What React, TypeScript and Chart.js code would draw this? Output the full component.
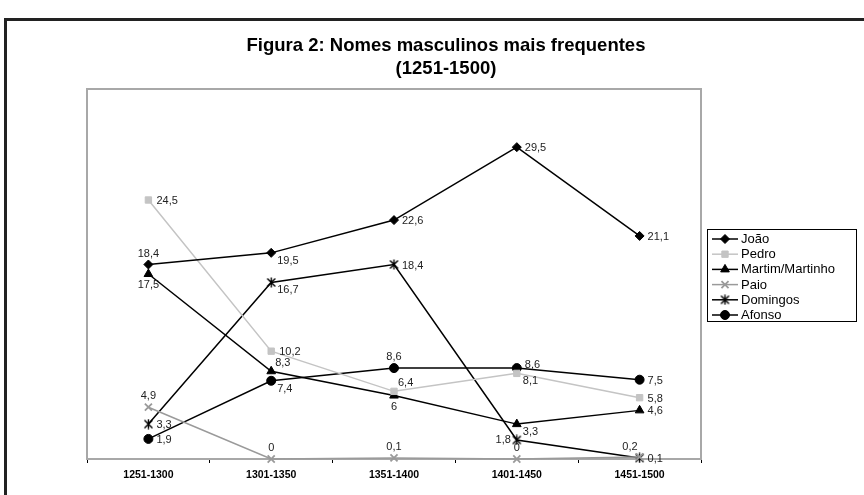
import React, { useEffect, useRef } from 'react';
import { Chart, registerables } from 'chart.js';
import { drawPoint } from 'chart.js/helpers';
Chart.register(...registerables);

const FONT = "'Liberation Sans', Arial, sans-serif";

const categories = ['1251-1300', '1301-1350', '1351-1400', '1401-1450', '1451-1500'];
const joao = [18.4, 19.5, 22.6, 29.5, 21.1];
const pedro = [24.5, 10.2, 6.4, 8.1, 5.8];
const martim = [17.5, 8.3, 6, 3.3, 4.6];
const paio = [4.9, 0, 0.1, 0, 0.2];
const domingos = [3.3, 16.7, 18.4, 1.8, 0.1];
const afonso = [1.9, 7.4, 8.6, 8.6, 7.5];
const seriesNames = ['João', 'Pedro', 'Martim/Martinho', 'Paio', 'Domingos', 'Afonso'];
const titleLines = ['Figura 2: Nomes masculinos mais frequentes', '(1251-1500)'];
const yMin = 0;
const yMax = 35;

// label placement per series / point (style only)
const placements: string[][] = [
  ['A', 'BR', 'R', 'R', 'R'],
  ['R', 'R', 'AR', 'BR', 'R'],
  ['B', 'AR', 'B', 'BR', 'R'],
  ['A', 'A', 'A', 'A', 'AL'],
  ['R', 'BR', 'R', 'L', 'R'],
  ['R', 'BR', 'A', 'RU', 'R'],
];

function makeAsterisk(): HTMLCanvasElement {
  const c = document.createElement('canvas');
  c.width = 11;
  c.height = 11;
  const g = c.getContext('2d') as CanvasRenderingContext2D;
  g.strokeStyle = '#000';
  g.lineWidth = 1.4;
  g.beginPath();
  g.moveTo(1.5, 1.5); g.lineTo(9.5, 9.5);
  g.moveTo(9.5, 1.5); g.lineTo(1.5, 9.5);
  g.moveTo(5.5, 0.5); g.lineTo(5.5, 10.5);
  g.stroke();
  return c;
}

const styles: any[] = [
  { color: '#000', fill: '#000', point: 'rectRot', r: 4.5, pbw: 1 },
  { color: '#c4c4c4', fill: '#c4c4c4', point: 'rect', r: 4.5, pbw: 1 },
  { color: '#000', fill: '#000', point: 'triangle', r: 5, pbw: 1 },
  { color: '#9a9a9a', fill: '#9a9a9a', point: 'crossRot', r: 5, pbw: 1.8 },
  { color: '#000', fill: '#000', point: 'asterisk', r: 5, pbw: 1.3 },
  { color: '#000', fill: '#000', point: 'circle', r: 4.5, pbw: 1 },
];

const fmt = (v: number) => String(v).replace('.', ',');

const decorPlugin = {
  id: 'decor',
  beforeDatasetsDraw(chart: any) {
    const { ctx, chartArea } = chart;
    ctx.save();
    ctx.strokeStyle = '#222';
    ctx.lineWidth = 3;
    ctx.strokeRect(5.5, 19.5, 2000, 2000);
    ctx.strokeStyle = '#a8a8a8';
    ctx.lineWidth = 2;
    ctx.strokeRect(chartArea.left, chartArea.top, chartArea.right - chartArea.left, chartArea.bottom - chartArea.top);
    ctx.fillStyle = '#000';
    ctx.font = `bold 18.5px ${FONT}`;
    ctx.textAlign = 'center';
    ctx.textBaseline = 'middle';
    titleLines.forEach((t, i) => ctx.fillText(t, 446, 46 + i * 22.5));
    ctx.restore();
  },
  afterDatasetsDraw(chart: any) {
    const { ctx } = chart;
    ctx.save();
    ctx.font = `11px ${FONT}`;
    ctx.fillStyle = '#222';
    ctx.textBaseline = 'middle';
    chart.data.datasets.forEach((ds: any, di: number) => {
      const meta = chart.getDatasetMeta(di);
      meta.data.forEach((pt: any, i: number) => {
        const v = ds.data[i];
        const p = placements[di][i];
        let x = pt.x, y = pt.y, align: CanvasTextAlign = 'left';
        if (p === 'R') { x += 8; y += 1; }
        else if (p === 'RU') { x += 8; y -= 3; }
        else if (p === 'A') { y -= 11; align = 'center'; }
        else if (p === 'B') { y += 11; align = 'center'; }
        else if (p === 'L') { x -= 6; align = 'right'; }
        else if (p === 'BR') { x += 6; y += 8; }
        else if (p === 'AR') { x += 4; y -= 8; }
        else if (p === 'AL') { x -= 2; y -= 10; align = 'right'; }
        ctx.textAlign = align;
        ctx.fillText(fmt(v), x, y);
      });
    });
    ctx.restore();
  },
  afterDraw(chart: any) {
    const { ctx } = chart;
    ctx.save();
    const bx = 707, by = 229, bw = 149, bh = 92;
    ctx.fillStyle = '#fff';
    ctx.fillRect(bx, by, bw, bh);
    ctx.strokeStyle = '#000';
    ctx.lineWidth = 1;
    ctx.strokeRect(bx + 0.5, by + 0.5, bw, bh);
    ctx.font = `13px ${FONT}`;
    ctx.textBaseline = 'middle';
    ctx.textAlign = 'left';
    const dsets = chart.data.datasets;
    seriesNames.forEach((name, i) => {
      const s = styles[i];
      const y = by + 10 + i * 15.2;
      ctx.strokeStyle = s.color;
      ctx.lineWidth = 1.5;
      ctx.beginPath();
      ctx.moveTo(712, y);
      ctx.lineTo(738, y);
      ctx.stroke();
      ctx.fillStyle = s.fill;
      ctx.strokeStyle = s.color;
      ctx.lineWidth = s.pbw;
      drawPoint(ctx, { pointStyle: dsets[i].pointStyle, radius: s.r, rotation: 0, borderWidth: s.pbw }, 725, y);
      ctx.fillStyle = '#000';
      ctx.fillText(name, 741, y + 0.5);
    });
    ctx.restore();
  },
};

export default function App() {
  const ref = useRef<HTMLCanvasElement>(null);
  useEffect(() => {
    const asterisk = makeAsterisk();
    const seriesData = [joao, pedro, martim, paio, domingos, afonso];
    const chart = new Chart(ref.current as HTMLCanvasElement, {
      type: 'line',
      data: {
        labels: categories,
        datasets: seriesData.map((d, i) => ({
          label: seriesNames[i],
          data: d,
          borderColor: styles[i].color,
          backgroundColor: styles[i].fill,
          borderWidth: 1.5,
          pointStyle: (styles[i].point === 'asterisk' ? asterisk : styles[i].point) as any,
          pointRadius: styles[i].r,
          pointBorderWidth: styles[i].pbw,
          pointBackgroundColor: styles[i].fill,
          pointBorderColor: styles[i].color,
          tension: 0,
          clip: false as any,
        })),
      },
      options: {
        responsive: false,
        animation: false,
        layout: { padding: { left: 87, top: 89, right: 163, bottom: 0 } },
        plugins: {
          legend: { display: false },
          title: { display: false },
          tooltip: { enabled: false },
        },
        scales: {
          x: {
            offset: true,
            grid: { display: true, drawOnChartArea: false, drawTicks: true, tickLength: 4, color: '#000', offset: true, lineWidth: 1 },
            border: { display: true, color: '#000', width: 2 },
            ticks: { color: '#000', font: { family: FONT, size: 10.5, weight: 'bold' }, padding: 6, maxRotation: 0, autoSkip: false },
            afterFit: (s: any) => { s.height = 36; },
          },
          y: { display: false, min: yMin, max: yMax },
        },
      },
      plugins: [decorPlugin],
    });
    return () => chart.destroy();
  }, []);
  return (
    <div style={{ position: 'absolute', left: 0, top: 0, width: 864, height: 495, background: '#fff' }}>
      <canvas ref={ref} width={864} height={495} />
    </div>
  );
}
